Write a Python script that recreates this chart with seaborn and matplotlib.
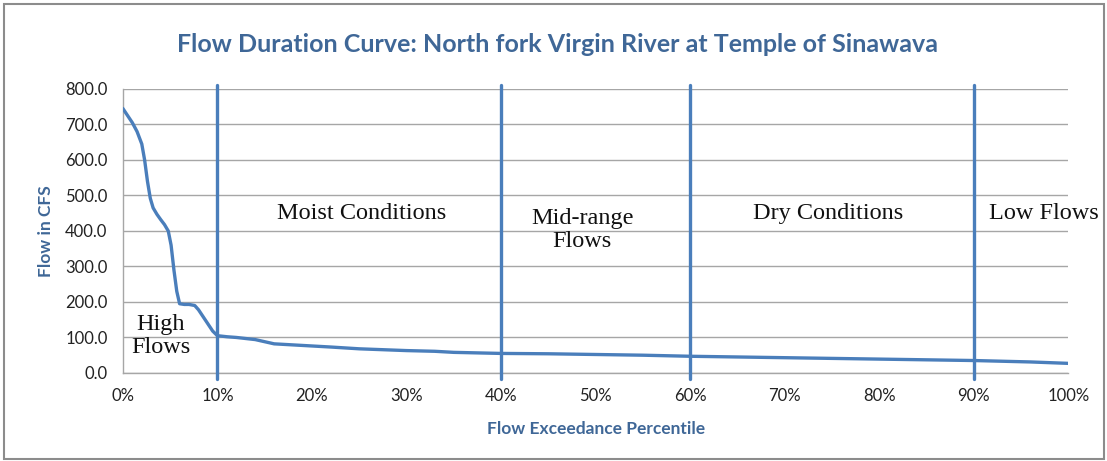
import matplotlib
matplotlib.use("Agg")
import matplotlib.pyplot as plt
from matplotlib.patches import Rectangle
from matplotlib.ticker import FuncFormatter
import seaborn as sns
import pandas as pd

# Flow duration curve readings (exceedance percentile, flow in cfs)
exceedance_pct = [0, 0.5, 1.0, 1.5, 2.0, 2.3, 2.6, 2.9, 3.2, 3.6, 4.0, 4.4, 4.8, 5.1,
                  5.4, 5.7, 6.0, 6.5, 7.0, 7.6, 8.0, 8.5, 9.0, 9.5, 10.0, 11.0, 12.0,
                  13.0, 14.0, 15.0, 16.0, 18.0, 20.0, 22.0, 25.0, 28.0, 30.0, 33.0,
                  35.0, 40.0, 45.0, 50.0, 55.0, 60.0, 65.0, 70.0, 75.0, 80.0, 85.0,
                  90.0, 93.0, 96.0, 98.0, 100.0]
flow_cfs = [745, 725, 705, 680, 645, 600, 540, 492, 465, 447, 432, 418, 400, 360,
            290, 230, 195, 193, 193, 190, 178, 158, 138, 118, 105, 102, 100,
            97, 94, 88, 82, 79, 76, 73, 68, 65, 63, 61,
            58, 55, 54, 52, 50, 47, 45, 43, 41, 39, 37,
            35, 33, 31, 29, 27]

# Flow regime boundaries and zone labels
boundaries = [10, 40, 60, 90]
zone_labels = ["High\nFlows", "Moist Conditions", "Mid-range\nFlows", "Dry Conditions", "Low Flows"]
zone_x = [4.0, 25.3, 48.6, 74.6, 97.4]
zone_y = [104, 450, 403, 450, 450]

x_ticks = list(range(0, 101, 10))
y_ticks = [0, 100, 200, 300, 400, 500, 600, 700, 800]

title_text = "Flow Duration Curve: North fork Virgin River at Temple of Sinawava"
x_label = "Flow Exceedance Percentile"
y_label = "Flow in CFS"

line_blue = "#4A7EBB"
title_blue = "#3F6797"

sns.set_style("white")
plt.rcParams["font.family"] = ["Lato", "DejaVu Sans"]

fig = plt.figure(figsize=(11.07, 4.61), dpi=100)
ax = fig.add_axes([0.111, 0.191, 0.854, 0.616])

df = pd.DataFrame({"pct": exceedance_pct, "flow": flow_cfs})
sns.lineplot(data=df, x="pct", y="flow", ax=ax, color=line_blue, linewidth=2.4,
             solid_joinstyle="round", solid_capstyle="round", zorder=3)

for b in boundaries:
    ax.plot([b, b], [-18, 810], color=line_blue, linewidth=2.4, clip_on=False, zorder=3)

for label, xv, yv in zip(zone_labels, zone_x, zone_y):
    ax.text(xv, yv, label, ha="center", va="center", fontsize=17.5,
            family=["Liberation Serif", "DejaVu Serif"], color="#111111",
            linespacing=1.1, zorder=4)

ax.set_xlim(0, 100)
ax.set_ylim(0, 800)
ax.set_xticks(x_ticks)
ax.set_yticks(y_ticks)
ax.xaxis.set_major_formatter(FuncFormatter(lambda v, _: f"{int(v)}%"))
ax.yaxis.set_major_formatter(FuncFormatter(lambda v, _: f"{v:.1f}"))
ax.tick_params(axis="both", labelsize=12, colors="#222222", length=5,
               width=0.8, direction="out", pad=6)
ax.tick_params(axis="both", color="#A6A6A6")
ax.grid(axis="y", color="#A6A6A6", linewidth=1.0)
ax.grid(axis="x", visible=False)
for side in ["top", "right"]:
    ax.spines[side].set_visible(False)
for side in ["left", "bottom"]:
    ax.spines[side].set_color("#A6A6A6")
    ax.spines[side].set_linewidth(1.0)

ax.set_xlabel(x_label, fontsize=12.5, fontweight="bold", color=title_blue, labelpad=12)
ax.set_ylabel(y_label, fontsize=12.5, fontweight="bold", color=title_blue, labelpad=8)

fig.text(0.504, 0.903, title_text, ha="center", va="center", fontsize=18,
         fontweight="bold", color=title_blue)

fig.patches.append(Rectangle((0.004, 0.005), 0.993, 0.987, transform=fig.transFigure,
                             fill=False, edgecolor="#8C8C8C", linewidth=1.5))

fig.savefig("out.png", dpi=100)
